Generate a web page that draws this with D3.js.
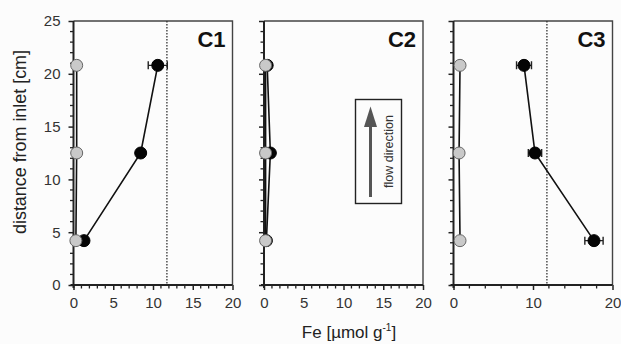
<!DOCTYPE html>
<html>
<head>
<meta charset="utf-8">
<script src="https://cdn.jsdelivr.net/npm/d3@7"></script>
<style>
  body { margin: 0; background: #fcfcfc; }
  text { font-family: "Liberation Sans", Arial, sans-serif; }
</style>
</head>
<body>
<div id="chart"></div>
<script>
// data
const panels = ['C1', 'C2', 'C3'];
const depths = [20.8, 12.5, 4.2];
const grayFe = [[0.4, 0.4, 0.3], [0.2, 0.2, 0.2], [0.82, 0.7, 0.82]];
const blackFe = [[10.6, 8.45, 1.32], [0.4, 0.8, 0.3], [8.87, 10.25, 17.67]];
const blackErr = [[1.2, 0.2, 0.2], [0.1, 0.1, 0.1], [0.94, 0.84, 1.15]];
const refLine = [11.75, null, 11.75];
const xMajor = [[0, 5, 10, 15, 20], [0, 5, 10, 15, 20], [0, 10, 20]];
const xMinorStep = [1, 1, 2];
const yMajor = [0, 5, 10, 15, 20, 25];

const width = 621, height = 344;
const panelLeft = [73.5, 264, 453.5];
const panelW = 159;
const plotTop = 21, plotBottom = 285;

const svg = d3.select('#chart').append('svg')
  .attr('width', width).attr('height', height);

const y = d3.scaleLinear().domain([0, 25]).range([plotBottom, plotTop]);

panels.forEach((name, i) => {
  const x = d3.scaleLinear().domain([0, 20]).range([panelLeft[i], panelLeft[i] + panelW]);
  const g = svg.append('g');

  // frame (top + right)
  g.append('path')
    .attr('d', `M${x(0)},${plotTop}H${x(20)}V${plotBottom}`)
    .attr('fill', 'none').attr('stroke', '#444').attr('stroke-width', 1.4);

  // minor ticks
  const xMinor = d3.range(0, 20.01, xMinorStep[i]).filter(v => !xMajor[i].includes(v));
  g.selectAll('.xmin').data(xMinor).enter().append('line')
    .attr('x1', d => x(d)).attr('x2', d => x(d))
    .attr('y1', plotBottom).attr('y2', plotBottom + 3.5)
    .attr('stroke', '#222').attr('stroke-width', 1.3);
  const yMinor = d3.range(0, 25.01, 1).filter(v => v % 5 !== 0);
  g.selectAll('.ymin').data(yMinor).enter().append('line')
    .attr('y1', d => y(d)).attr('y2', d => y(d))
    .attr('x1', x(0)).attr('x2', x(0) - 3.5)
    .attr('stroke', '#222').attr('stroke-width', 1.3);

  // axes
  const xAxis = d3.axisBottom(x).tickValues(xMajor[i]).tickSize(5).tickPadding(7);
  const gx = g.append('g').attr('transform', `translate(0,${plotBottom})`).call(xAxis);
  const yAxis = d3.axisLeft(y).tickValues(yMajor).tickSize(5).tickPadding(8)
    .tickFormat(i === 0 ? d3.format('d') : '');
  const gy = g.append('g').attr('transform', `translate(${x(0)},0)`).call(yAxis);
  [gx, gy].forEach(a => {
    a.select('.domain').attr('stroke', '#222').attr('stroke-width', 2);
    a.selectAll('.tick line').attr('stroke', '#222').attr('stroke-width', 1.5);
    a.selectAll('.tick text').attr('fill', '#333').style('font-size', '15px');
  });
  gx.select('.domain').attr('d', `M${x(0) - 3},0H${x(20)}`);
  gy.select('.domain').attr('d', `M0,${plotTop}V${plotBottom + 3}`);

  // dotted reference line
  if (refLine[i] !== null) {
    g.append('line')
      .attr('x1', x(refLine[i])).attr('x2', x(refLine[i]))
      .attr('y1', plotTop).attr('y2', plotBottom)
      .attr('stroke', '#333').attr('stroke-width', 1.3)
      .attr('stroke-dasharray', '1.5,1.5');
  }

  const line = d3.line().x(d => x(d[0])).y(d => y(d[1]));

  // black series
  const blk = blackFe[i].map((v, j) => [v, depths[j], blackErr[i][j]]);
  g.append('path').datum(blk).attr('d', line)
    .attr('fill', 'none').attr('stroke', '#111').attr('stroke-width', 1.6);
  blk.forEach(d => {
    const x0 = x(d[0] - d[2]), x1 = x(d[0] + d[2]), cy = y(d[1]);
    g.append('path')
      .attr('d', `M${x0},${cy}H${x1}M${x0},${cy - 4}V${cy + 4}M${x1},${cy - 4}V${cy + 4}`)
      .attr('stroke', '#222').attr('stroke-width', 1.4).attr('fill', 'none');
  });
  g.selectAll('.blk').data(blk).enter().append('circle')
    .attr('cx', d => x(d[0])).attr('cy', d => y(d[1])).attr('r', 6)
    .attr('fill', '#050505').attr('stroke', '#000');

  // gray series
  const gry = grayFe[i].map((v, j) => [v, depths[j]]);
  g.append('path').datum(gry).attr('d', line)
    .attr('fill', 'none').attr('stroke', '#111').attr('stroke-width', 1.6);
  g.selectAll('.gry').data(gry).enter().append('circle')
    .attr('cx', d => x(d[0])).attr('cy', d => y(d[1])).attr('r', 6)
    .attr('fill', '#c9c9c9').attr('stroke', '#666').attr('stroke-width', 1);

  // panel label
  g.append('text')
    .attr('x', x(20) - 7).attr('y', plotTop + 26)
    .attr('text-anchor', 'end')
    .style('font-size', '22px').style('font-weight', 'bold').attr('fill', '#111')
    .text(name);
});

// flow direction box in C2
const flow = svg.append('g');
flow.append('rect')
  .attr('x', 355.5).attr('y', 99.5).attr('width', 46).attr('height', 104)
  .attr('fill', 'none').attr('stroke', '#222').attr('stroke-width', 1.4);
flow.append('line')
  .attr('x1', 370.5).attr('x2', 370.5).attr('y1', 197).attr('y2', 122)
  .attr('stroke', '#555').attr('stroke-width', 3);
flow.append('path')
  .attr('d', 'M370.5,106.5L364,127H377Z').attr('fill', '#555');
flow.append('text')
  .attr('transform', 'translate(389,151.5) rotate(-90)')
  .attr('text-anchor', 'middle').attr('dy', '0.35em')
  .attr('textLength', 73).attr('lengthAdjust', 'spacingAndGlyphs')
  .style('font-size', '12px').attr('fill', '#333')
  .text('flow direction');

// axis titles
svg.append('text')
  .attr('transform', `translate(20,142) rotate(-90)`)
  .attr('text-anchor', 'middle').attr('dy', '0.35em')
  .attr('textLength', 184).attr('lengthAdjust', 'spacingAndGlyphs')
  .style('font-size', '18px').attr('fill', '#222')
  .text('distance from inlet [cm]');

const xt = svg.append('text')
  .attr('x', 349).attr('y', 338)
  .attr('text-anchor', 'middle')
  .style('font-size', '17px').attr('fill', '#222');
xt.append('tspan').text('Fe [µmol g');
xt.append('tspan').attr('dy', -7).style('font-size', '10px').text('-1');
xt.append('tspan').attr('dy', 7).text(']');
</script>
</body>
</html>
